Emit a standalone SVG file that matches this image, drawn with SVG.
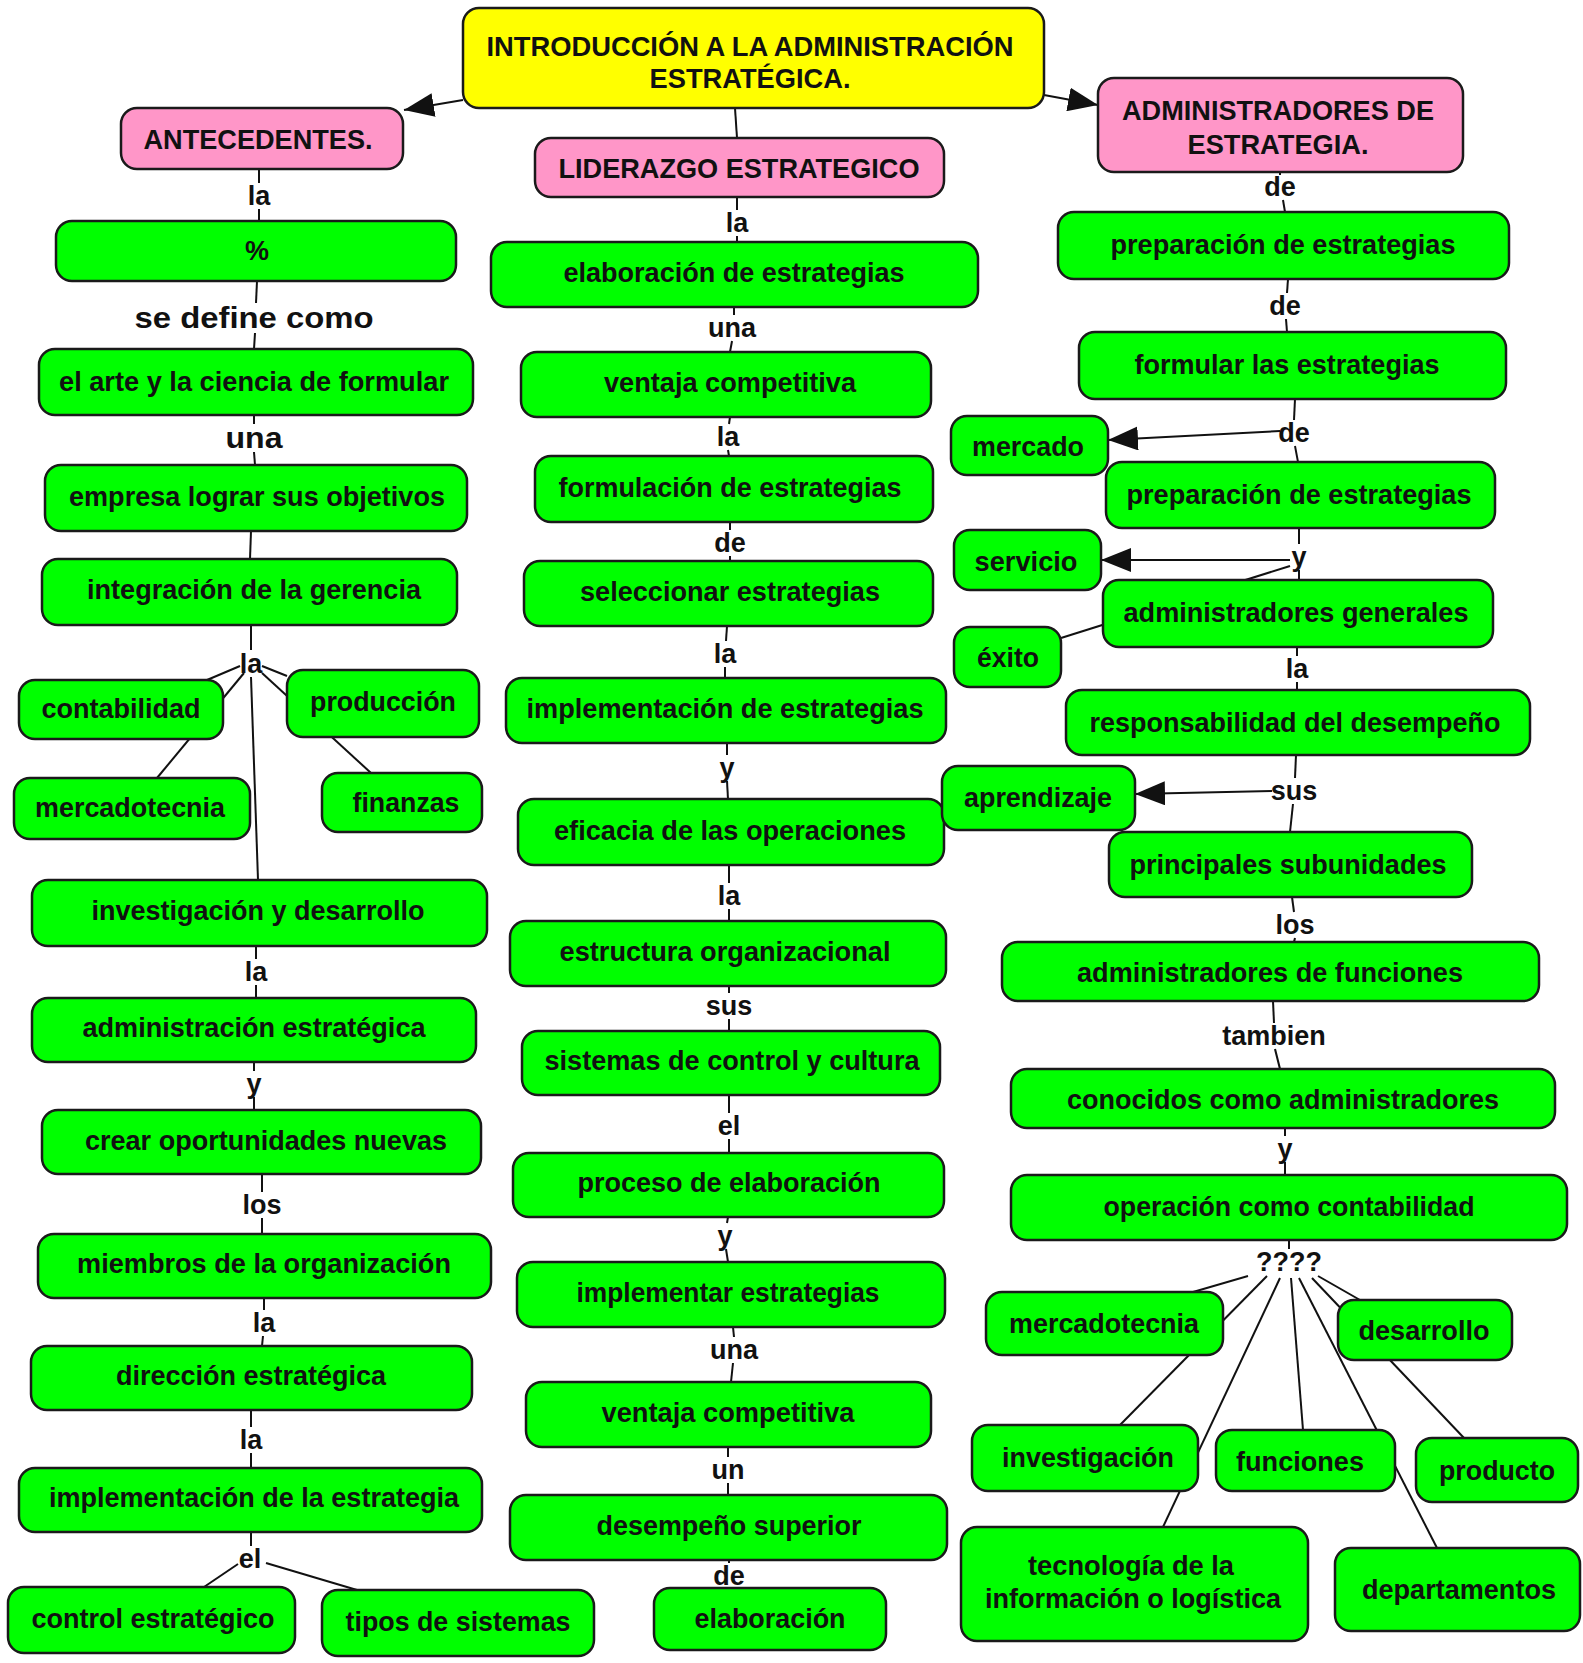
<svg xmlns="http://www.w3.org/2000/svg" width="1583" height="1663" viewBox="0 0 1583 1663">
<style>
.nd rect{stroke:#1a1a1a;stroke-width:2.5}
.g rect{fill:#00ff00}
.p rect{fill:#ff96c8}
.yl rect{fill:#ffff00}
text{font-family:"Liberation Sans",Arial,sans-serif;font-weight:bold;font-size:27px;text-anchor:middle;fill:#111}
.rc text{font-size:28px}
.t28{font-size:28px}
.cn line{stroke:#111;stroke-width:2}
.ar{marker-end:url(#ah)}
</style>
<defs>
<marker id="ah" markerUnits="userSpaceOnUse" markerWidth="30" markerHeight="24" refX="30" refY="12" orient="auto">
<path d="M0,0 L30,12 L0,24 Z" fill="#111"/>
</marker>
</defs>
<rect width="1583" height="1663" fill="#ffffff"/>
<g id="connectors" class="cn">
<line class="ar" x1="463" y1="100" x2="404" y2="110"/>
<line class="ar" x1="1044" y1="95" x2="1098" y2="105"/>
<line x1="735" y1="108" x2="737" y2="138"/>
<line x1="259" y1="169" x2="259" y2="183"/><line x1="259" y1="209" x2="259" y2="221"/>
<line x1="257" y1="281" x2="256" y2="303"/><line x1="255" y1="333" x2="254" y2="349"/>
<line x1="254" y1="415" x2="254" y2="424"/><line x1="254" y1="452" x2="255" y2="465"/>
<line x1="251" y1="531" x2="250" y2="559"/>
<line x1="251" y1="625" x2="251" y2="650"/>
<line x1="240" y1="666" x2="207" y2="680"/>
<line x1="244" y1="673" x2="157" y2="778"/>
<line x1="262" y1="666" x2="287" y2="676"/>
<line x1="262" y1="673" x2="371" y2="773"/>
<line x1="251" y1="677" x2="258" y2="880"/>
<line x1="256" y1="946" x2="256" y2="959"/><line x1="256" y1="985" x2="256" y2="998"/>
<line x1="254" y1="1062" x2="254" y2="1071"/><line x1="254" y1="1097" x2="254" y2="1110"/>
<line x1="262" y1="1174" x2="262" y2="1192"/><line x1="262" y1="1218" x2="262" y2="1234"/>
<line x1="264" y1="1298" x2="264" y2="1310"/><line x1="263" y1="1336" x2="262" y2="1346"/>
<line x1="251" y1="1410" x2="251" y2="1427"/><line x1="251" y1="1453" x2="251" y2="1468"/>
<line x1="251" y1="1532" x2="251" y2="1546"/>
<line x1="238" y1="1564" x2="204" y2="1587"/>
<line x1="266" y1="1563" x2="357" y2="1590"/>
<line x1="737" y1="197" x2="737" y2="210"/><line x1="737" y1="236" x2="737" y2="242"/>
<line x1="734" y1="307" x2="734" y2="315"/><line x1="732" y1="341" x2="730" y2="352"/>
<line x1="730" y1="417" x2="729" y2="424"/><line x1="728" y1="450" x2="729" y2="456"/>
<line x1="730" y1="522" x2="730" y2="530"/><line x1="730" y1="556" x2="730" y2="561"/>
<line x1="727" y1="626" x2="726" y2="641"/><line x1="725" y1="667" x2="725" y2="678"/>
<line x1="727" y1="743" x2="727" y2="755"/><line x1="727" y1="781" x2="728" y2="799"/>
<line x1="729" y1="865" x2="729" y2="883"/><line x1="729" y1="909" x2="729" y2="921"/>
<line x1="729" y1="986" x2="729" y2="993"/><line x1="729" y1="1019" x2="729" y2="1031"/>
<line x1="729" y1="1095" x2="729" y2="1113"/><line x1="729" y1="1139" x2="729" y2="1153"/>
<line x1="728" y1="1217" x2="727" y2="1223"/><line x1="726" y1="1249" x2="728" y2="1262"/>
<line x1="733" y1="1327" x2="734" y2="1337"/><line x1="733" y1="1363" x2="731" y2="1382"/>
<line x1="728" y1="1447" x2="728" y2="1457"/><line x1="728" y1="1483" x2="728" y2="1495"/>
<line x1="729" y1="1560" x2="729" y2="1563"/>
<line x1="1280" y1="172" x2="1280" y2="175"/><line x1="1283" y1="200" x2="1285" y2="212"/>
<line x1="1288" y1="279" x2="1287" y2="293"/><line x1="1286" y1="319" x2="1287" y2="332"/>
<line x1="1295" y1="399" x2="1294" y2="420"/><line x1="1295" y1="446" x2="1298" y2="462"/>
<line class="ar" x1="1280" y1="431" x2="1108" y2="440"/>
<line x1="1299" y1="528" x2="1299" y2="544"/><line x1="1299" y1="570" x2="1299" y2="580"/>
<line class="ar" x1="1290" y1="560" x2="1101" y2="560"/>
<line x1="1290" y1="566" x2="1061" y2="638"/>
<line x1="1297" y1="647" x2="1297" y2="656"/><line x1="1297" y1="682" x2="1297" y2="690"/>
<line x1="1296" y1="755" x2="1295" y2="778"/><line x1="1293" y1="804" x2="1290" y2="832"/>
<line class="ar" x1="1272" y1="791" x2="1135" y2="794"/>
<line x1="1292" y1="897" x2="1294" y2="912"/><line x1="1295" y1="938" x2="1294" y2="942"/>
<line x1="1273" y1="1001" x2="1274" y2="1023"/><line x1="1275" y1="1049" x2="1280" y2="1069"/>
<line x1="1285" y1="1128" x2="1285" y2="1136"/><line x1="1285" y1="1162" x2="1285" y2="1175"/>
<line x1="1289" y1="1240" x2="1289" y2="1249"/>
<line x1="1248" y1="1276" x2="1193" y2="1292"/>
<line x1="1267" y1="1276" x2="1120" y2="1425"/>
<line x1="1280" y1="1278" x2="1163" y2="1527"/>
<line x1="1291" y1="1278" x2="1303" y2="1430"/>
<line x1="1299" y1="1278" x2="1437" y2="1548"/>
<line x1="1312" y1="1278" x2="1464" y2="1438"/>
<line x1="1318" y1="1276" x2="1360" y2="1300"/>
</g>
<g id="labels">
<text x="259" y="205">la</text>
<text x="254" y="328" style="font-size:30px" textLength="239" lengthAdjust="spacingAndGlyphs">se define como</text>
<text x="254" y="448" style="font-size:30px" textLength="57" lengthAdjust="spacingAndGlyphs">una</text>
<text x="251" y="673">la</text>
<text x="256" y="981">la</text>
<text x="254" y="1093">y</text>
<text x="262" y="1214">los</text>
<text x="264" y="1332">la</text>
<text x="251" y="1449">la</text>
<text x="250" y="1568">el</text>
<text x="737" y="232">la</text>
<text x="732" y="337">una</text>
<text x="728" y="446">la</text>
<text x="730" y="552">de</text>
<text x="725" y="663">la</text>
<text x="727" y="777">y</text>
<text x="729" y="905">la</text>
<text x="729" y="1015">sus</text>
<text x="729" y="1135">el</text>
<text x="725" y="1245">y</text>
<text x="734" y="1359">una</text>
<text x="728" y="1479">un</text>
<text x="729" y="1585">de</text>
<text x="1280" y="196">de</text>
<text x="1285" y="315">de</text>
<text x="1294" y="442">de</text>
<text x="1299" y="566">y</text>
<text x="1297" y="678">la</text>
<text x="1294" y="800">sus</text>
<text x="1295" y="934">los</text>
<text x="1274" y="1045">tambien</text>
<text x="1285" y="1158">y</text>
<text x="1289" y="1271">????</text>
</g>
<g id="n_title" class="nd yl"><rect x="463" y="8" width="581" height="100" rx="16"/>
<text class="t28" x="750" y="56" textLength="527" lengthAdjust="spacingAndGlyphs">INTRODUCCIÓN A LA ADMINISTRACIÓN</text>
<text class="t28" x="750" y="88" textLength="201" lengthAdjust="spacingAndGlyphs">ESTRATÉGICA.</text></g>
<g id="n_ant" class="nd p"><rect x="121" y="108" width="282" height="61" rx="16"/><text class="t28" x="258" y="149" textLength="229" lengthAdjust="spacingAndGlyphs">ANTECEDENTES.</text></g>
<g id="n_lid" class="nd p"><rect x="535" y="138" width="409" height="59" rx="16"/><text class="t28" x="739" y="178" textLength="361" lengthAdjust="spacingAndGlyphs">LIDERAZGO ESTRATEGICO</text></g>
<g id="n_adm" class="nd p"><rect x="1098" y="78" width="365" height="94" rx="16"/>
<text class="t28" x="1278" y="120" textLength="312" lengthAdjust="spacingAndGlyphs">ADMINISTRADORES DE</text>
<text class="t28" x="1278" y="154" textLength="181" lengthAdjust="spacingAndGlyphs">ESTRATEGIA.</text></g>
<g id="n_pct" class="nd g"><rect x="56" y="221" width="400" height="60" rx="16"/><text x="257" y="260">%</text></g>
<g id="n_arte" class="nd g"><rect x="39" y="349" width="434" height="66" rx="16"/><text x="254" y="391" textLength="390" lengthAdjust="spacingAndGlyphs">el arte y la ciencia de formular</text></g>
<g id="n_emp" class="nd g"><rect x="45" y="465" width="422" height="66" rx="16"/><text x="257" y="506" textLength="376" lengthAdjust="spacingAndGlyphs">empresa lograr sus objetivos</text></g>
<g id="n_int" class="nd g"><rect x="42" y="559" width="415" height="66" rx="16"/><text x="254" y="599" textLength="334" lengthAdjust="spacingAndGlyphs">integración de la gerencia</text></g>
<g id="n_cont" class="nd g"><rect x="19" y="680" width="204" height="59" rx="16"/><text x="121" y="718" textLength="159" lengthAdjust="spacingAndGlyphs">contabilidad</text></g>
<g id="n_prod" class="nd g"><rect x="287" y="670" width="192" height="67" rx="16"/><text x="383" y="711" textLength="146" lengthAdjust="spacingAndGlyphs">producción</text></g>
<g id="n_merc" class="nd g"><rect x="14" y="778" width="236" height="61" rx="16"/><text x="130" y="817" textLength="190" lengthAdjust="spacingAndGlyphs">mercadotecnia</text></g>
<g id="n_fin" class="nd g"><rect x="322" y="773" width="160" height="59" rx="16"/><text x="406" y="812" textLength="107" lengthAdjust="spacingAndGlyphs">finanzas</text></g>
<g id="n_inv" class="nd g"><rect x="32" y="880" width="455" height="66" rx="16"/><text x="258" y="920" textLength="333" lengthAdjust="spacingAndGlyphs">investigación y desarrollo</text></g>
<g id="n_ade" class="nd g"><rect x="32" y="998" width="444" height="64" rx="16"/><text x="254" y="1037" textLength="343" lengthAdjust="spacingAndGlyphs">administración estratégica</text></g>
<g id="n_crear" class="nd g"><rect x="42" y="1110" width="439" height="64" rx="16"/><text x="266" y="1150" textLength="362" lengthAdjust="spacingAndGlyphs">crear oportunidades nuevas</text></g>
<g id="n_miem" class="nd g"><rect x="38" y="1234" width="453" height="64" rx="16"/><text x="264" y="1273" textLength="374" lengthAdjust="spacingAndGlyphs">miembros de la organización</text></g>
<g id="n_dir" class="nd g"><rect x="31" y="1346" width="441" height="64" rx="16"/><text x="251" y="1385" textLength="270" lengthAdjust="spacingAndGlyphs">dirección estratégica</text></g>
<g id="n_impl" class="nd g"><rect x="19" y="1468" width="463" height="64" rx="16"/><text x="254" y="1507" textLength="410" lengthAdjust="spacingAndGlyphs">implementación de la estrategia</text></g>
<g id="n_ctrl" class="nd g"><rect x="8" y="1587" width="287" height="66" rx="16"/><text x="153" y="1628" textLength="243" lengthAdjust="spacingAndGlyphs">control estratégico</text></g>
<g id="n_tipos" class="nd g"><rect x="322" y="1590" width="272" height="66" rx="16"/><text x="458" y="1631" textLength="225" lengthAdjust="spacingAndGlyphs">tipos de sistemas</text></g>
<g id="n_elab" class="nd g"><rect x="491" y="242" width="487" height="65" rx="16"/><text x="734" y="282" textLength="341" lengthAdjust="spacingAndGlyphs">elaboración de estrategias</text></g>
<g id="n_vent" class="nd g"><rect x="521" y="352" width="410" height="65" rx="16"/><text x="730" y="392" textLength="252" lengthAdjust="spacingAndGlyphs">ventaja competitiva</text></g>
<g id="n_form" class="nd g"><rect x="535" y="456" width="398" height="66" rx="16"/><text x="730" y="497" textLength="343" lengthAdjust="spacingAndGlyphs">formulación de estrategias</text></g>
<g id="n_sel" class="nd g"><rect x="524" y="561" width="409" height="65" rx="16"/><text x="730" y="601" textLength="300" lengthAdjust="spacingAndGlyphs">seleccionar estrategias</text></g>
<g id="n_implm" class="nd g"><rect x="506" y="678" width="440" height="65" rx="16"/><text x="725" y="718" textLength="397" lengthAdjust="spacingAndGlyphs">implementación de estrategias</text></g>
<g id="n_efic" class="nd g"><rect x="518" y="799" width="426" height="66" rx="16"/><text x="730" y="840" textLength="352" lengthAdjust="spacingAndGlyphs">eficacia de las operaciones</text></g>
<g id="n_estr" class="nd g"><rect x="510" y="921" width="436" height="65" rx="16"/><text x="725" y="961" textLength="331" lengthAdjust="spacingAndGlyphs">estructura organizacional</text></g>
<g id="n_sist" class="nd g"><rect x="522" y="1031" width="418" height="64" rx="16"/><text x="732" y="1070" textLength="375" lengthAdjust="spacingAndGlyphs">sistemas de control y cultura</text></g>
<g id="n_proc" class="nd g"><rect x="513" y="1153" width="431" height="64" rx="16"/><text x="729" y="1192" textLength="303" lengthAdjust="spacingAndGlyphs">proceso de elaboración</text></g>
<g id="n_implr" class="nd g"><rect x="517" y="1262" width="428" height="65" rx="16"/><text x="728" y="1302" textLength="303" lengthAdjust="spacingAndGlyphs">implementar estrategias</text></g>
<g id="n_vent2" class="nd g"><rect x="526" y="1382" width="405" height="65" rx="16"/><text x="728" y="1422" textLength="253" lengthAdjust="spacingAndGlyphs">ventaja competitiva</text></g>
<g id="n_desm" class="nd g"><rect x="510" y="1495" width="437" height="65" rx="16"/><text x="729" y="1535" textLength="265" lengthAdjust="spacingAndGlyphs">desempeño superior</text></g>
<g id="n_elab2" class="nd g"><rect x="654" y="1588" width="232" height="62" rx="16"/><text x="770" y="1628" textLength="151" lengthAdjust="spacingAndGlyphs">elaboración</text></g>
<g id="n_prep1" class="nd g rc"><rect x="1058" y="212" width="451" height="67" rx="16"/><text x="1283" y="254" textLength="345" lengthAdjust="spacingAndGlyphs">preparación de estrategias</text></g>
<g id="n_formu" class="nd g rc"><rect x="1079" y="332" width="427" height="67" rx="16"/><text x="1287" y="374" textLength="305" lengthAdjust="spacingAndGlyphs">formular las estrategias</text></g>
<g id="n_mercado" class="nd g rc"><rect x="951" y="416" width="157" height="59" rx="16"/><text x="1028" y="456" textLength="112" lengthAdjust="spacingAndGlyphs">mercado</text></g>
<g id="n_prep2" class="nd g rc"><rect x="1106" y="462" width="389" height="66" rx="16"/><text x="1299" y="504" textLength="345" lengthAdjust="spacingAndGlyphs">preparación de estrategias</text></g>
<g id="n_serv" class="nd g rc"><rect x="954" y="530" width="147" height="60" rx="16"/><text x="1026" y="571" textLength="103" lengthAdjust="spacingAndGlyphs">servicio</text></g>
<g id="n_admg" class="nd g rc"><rect x="1103" y="580" width="390" height="67" rx="16"/><text x="1296" y="622" textLength="345" lengthAdjust="spacingAndGlyphs">administradores generales</text></g>
<g id="n_exito" class="nd g rc"><rect x="954" y="627" width="107" height="60" rx="16"/><text x="1008" y="667" textLength="62" lengthAdjust="spacingAndGlyphs">éxito</text></g>
<g id="n_resp" class="nd g rc"><rect x="1066" y="690" width="464" height="65" rx="16"/><text x="1295" y="732" textLength="411" lengthAdjust="spacingAndGlyphs">responsabilidad del desempeño</text></g>
<g id="n_apr" class="nd g rc"><rect x="942" y="766" width="193" height="64" rx="16"/><text x="1038" y="807" textLength="148" lengthAdjust="spacingAndGlyphs">aprendizaje</text></g>
<g id="n_princ" class="nd g rc"><rect x="1109" y="832" width="363" height="65" rx="16"/><text x="1288" y="874" textLength="317" lengthAdjust="spacingAndGlyphs">principales subunidades</text></g>
<g id="n_admf" class="nd g rc"><rect x="1002" y="942" width="537" height="59" rx="16"/><text x="1270" y="982" textLength="386" lengthAdjust="spacingAndGlyphs">administradores de funciones</text></g>
<g id="n_conoc" class="nd g rc"><rect x="1011" y="1069" width="544" height="59" rx="16"/><text x="1283" y="1109" textLength="432" lengthAdjust="spacingAndGlyphs">conocidos como administradores</text></g>
<g id="n_oper" class="nd g rc"><rect x="1011" y="1175" width="556" height="65" rx="16"/><text x="1289" y="1216" textLength="371" lengthAdjust="spacingAndGlyphs">operación como contabilidad</text></g>
<g id="n_merc2" class="nd g rc"><rect x="986" y="1292" width="237" height="63" rx="16"/><text x="1104" y="1333" textLength="190" lengthAdjust="spacingAndGlyphs">mercadotecnia</text></g>
<g id="n_desa" class="nd g rc"><rect x="1338" y="1300" width="174" height="60" rx="16"/><text x="1424" y="1340" textLength="131" lengthAdjust="spacingAndGlyphs">desarrollo</text></g>
<g id="n_invr" class="nd g rc"><rect x="972" y="1425" width="226" height="66" rx="16"/><text x="1088" y="1467" textLength="172" lengthAdjust="spacingAndGlyphs">investigación</text></g>
<g id="n_func" class="nd g rc"><rect x="1216" y="1430" width="179" height="61" rx="16"/><text x="1300" y="1471" textLength="128" lengthAdjust="spacingAndGlyphs">funciones</text></g>
<g id="n_produ" class="nd g rc"><rect x="1416" y="1438" width="162" height="64" rx="16"/><text x="1497" y="1480" textLength="116" lengthAdjust="spacingAndGlyphs">producto</text></g>
<g id="n_tec" class="nd g rc"><rect x="961" y="1527" width="347" height="114" rx="16"/>
<text x="1131" y="1575" textLength="206" lengthAdjust="spacingAndGlyphs">tecnología de la</text>
<text x="1133" y="1608" textLength="296" lengthAdjust="spacingAndGlyphs">información o logística</text></g>
<g id="n_dep" class="nd g rc"><rect x="1335" y="1548" width="245" height="83" rx="16"/><text x="1459" y="1599" textLength="194" lengthAdjust="spacingAndGlyphs">departamentos</text></g>
</svg>
